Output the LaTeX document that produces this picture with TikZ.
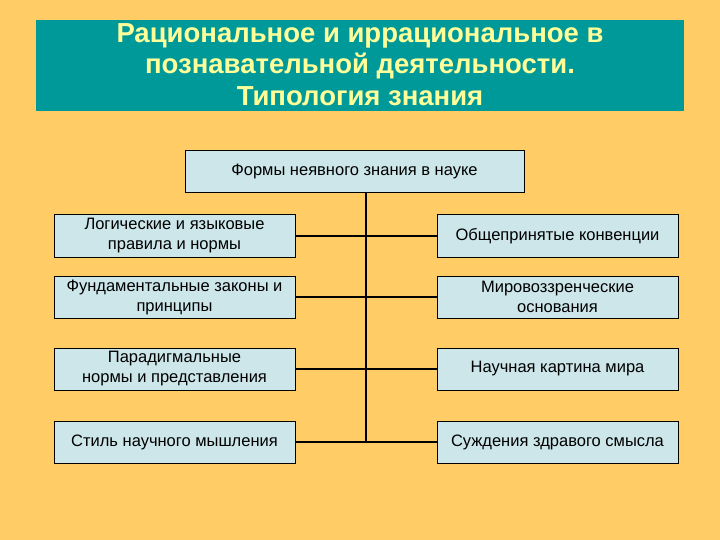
\documentclass[tikz,border=0pt]{standalone}
\usepackage{fontspec}
\setmainfont{Liberation Sans}
\definecolor{bg}{HTML}{FFCC66}
\definecolor{teal1}{HTML}{009999}
\definecolor{ttl}{HTML}{FFFF99}
\definecolor{boxf}{HTML}{CCE6EA}
\begin{document}
\begin{tikzpicture}[x=1pt,y=-1pt,
  bx/.style={draw=black,line width=0.8pt,fill=boxf,minimum width=241pt,align=center,font=\fontsize{16.5}{20}\selectfont,inner sep=1pt},
  ln/.style={line width=1.8pt}]
\fill[bg] (0,0) rectangle (720,540);
\useasboundingbox (0,0) rectangle (720,540);
\fill[teal1] (36,20) rectangle (684,111);
\begin{scope}
\clip (36,20) rectangle (684,111);
\node[text=ttl,font=\bfseries\fontsize{27.5}{31.5}\selectfont,align=center,anchor=north] (title) at (360,20) {Рациональное и иррациональное в\\познавательной деятельности.\\Типология знания};
\end{scope}
\node[bx,minimum width=339pt,minimum height=42pt] (top) at (354.5,171) {Формы неявного знания в науке};
\node[bx,minimum height=43pt] (l1) at (174.5,236) {Логические и языковые\\правила и нормы};
\node[bx,minimum height=42pt] (l2) at (174.5,297) {Фундаментальные законы и\\принципы};
\node[bx,minimum height=42pt] (l3) at (174.5,369) {Парадигмальные\\нормы и представления};
\node[bx,minimum height=42pt] (l4) at (174.5,442) {Стиль научного мышления};
\node[bx,minimum height=43pt] (r1) at (557.5,236) {Общепринятые конвенции};
\node[bx,minimum height=42pt] (r2) at (557.5,297) {Мировоззренческие\\основания};
\node[bx,minimum height=42pt] (r3) at (557.5,369) {Научная картина мира};
\node[bx,minimum height=42pt] (r4) at (557.5,442) {Суждения здравого смысла};
\coordinate (bot) at (366,442);
\draw[ln] (top.south -| bot) -- (bot);
\draw[ln] (l1.east) -- (r1.west);
\draw[ln] (l2.east) -- (r2.west);
\draw[ln] (l3.east) -- (r3.west);
\draw[ln] (l4.east) -- (r4.west);
\end{tikzpicture}
\end{document}
